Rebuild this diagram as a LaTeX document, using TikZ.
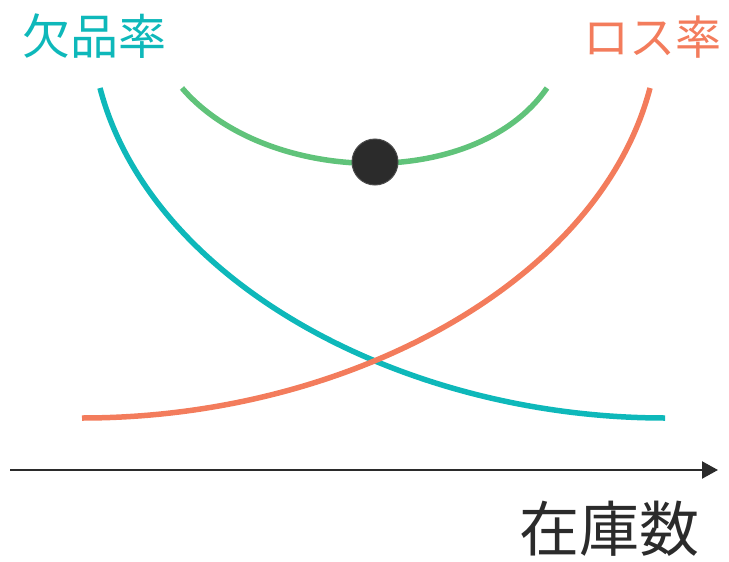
\documentclass[tikz,border=0pt]{standalone}
\usepackage{fontspec}
\newfontfamily\jp{Noto Sans CJK JP}
\usepackage{tikz}
\usetikzlibrary{arrows.meta}
\definecolor{teal1}{RGB}{14,184,186}
\definecolor{salmon}{RGB}{243,124,92}
\definecolor{green1}{RGB}{96,195,122}
\definecolor{ink}{RGB}{43,43,43}

\begin{document}
\begin{tikzpicture}[x=1pt,y=-1pt,line width=5.5pt,
                    curve/.style={line cap=butt},
                    label/.style={inner sep=0pt,font=\jp}]
  \useasboundingbox (0,0) rectangle (729,562);

  \node[label,text=teal1,font=\jp\fontsize{48}{48}\selectfont,anchor=west]   (shortage) at (20,36)  {欠品率};
  \node[label,text=salmon,font=\jp\fontsize{46}{46}\selectfont,anchor=east]  (loss)     at (724,37) {ロス率};
  \node[label,text=ink,font=\jp\fontsize{60}{60}\selectfont,anchor=east]     (stock)    at (702,529) {在庫数};

  \coordinate (T0) at (100,88);
  \coordinate (T1) at (665,418);
  \coordinate (L0) at (82,418);
  \coordinate (L1) at (650,88);
  \coordinate (G0) at (182,88);
  \coordinate (G1) at (547,88);
  \coordinate (A0) at (10,470);
  \coordinate (A1) at (718,470);

  \draw[curve,teal1]  (T0) .. controls (150,280) and (400,418) .. (T1);
  \draw[curve,salmon] (L0) .. controls (350,418) and (600,280) .. (L1);
  \draw[curve,green1] (G0) .. controls (265,185) and (475,192) .. (G1);

  \node[circle,fill=ink,draw=black!70,line width=1pt,minimum size=46pt,inner sep=0pt] (opt) at (375,162) {};

  \draw[ink,line width=2.2pt,-{Triangle[length=16pt,width=17pt]}] (A0) -- (A1);
\end{tikzpicture}
\end{document}
